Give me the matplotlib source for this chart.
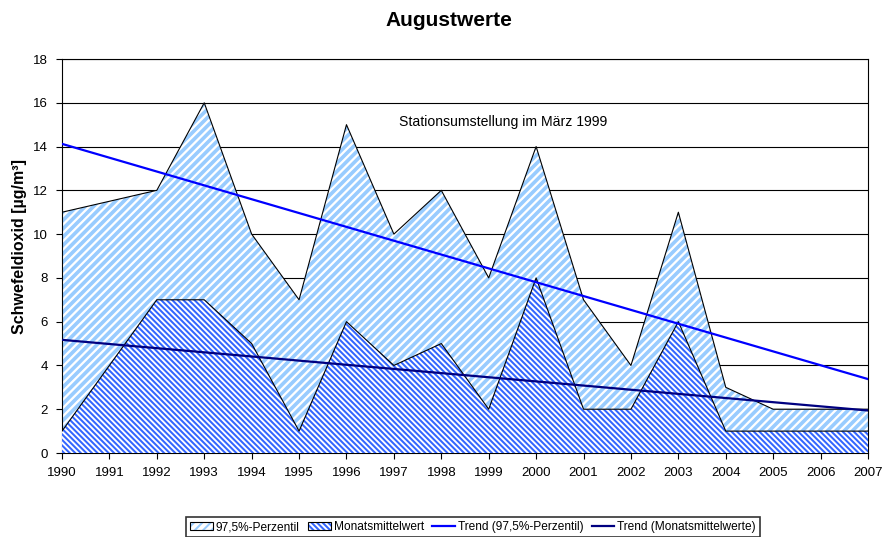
import numpy as np
import matplotlib
matplotlib.use("Agg")
import matplotlib.pyplot as plt
from matplotlib.patches import Patch
from matplotlib.lines import Line2D
from matplotlib.legend_handler import HandlerTuple

years = list(range(1990, 2008))
perzentil = [11, 11.5, 12, 16, 10, 7, 15, 10, 12, 8, 14, 7, 4, 11, 3, 2, 2, 2]
mittel = [1, 4, 7, 7, 5, 1, 6, 4, 5, 2, 8, 2, 2, 6, 1, 1, 1, 1]
yticks = list(range(0, 19, 2))

plt.rcParams['font.family'] = ['Liberation Sans', 'DejaVu Sans']

fig = plt.figure(figsize=(8.86, 5.37), dpi=100)
ax = fig.add_axes([62/886, 1-453/537, (868-62)/886, (453-59)/537])

x = np.array(years, dtype=float)
p = np.array(perzentil, dtype=float)
m = np.array(mittel, dtype=float)

c_light = '#99ccff'
c_mid = '#3366ff'
hatch1 = '////'
hatch2 = '\\' * 6
hw1 = 2.6
hw2 = 1.45


def set_hlw(artist, w):
    try:
        artist.set_hatch_linewidth(w)
    except Exception:
        pass


plt.rcParams['hatch.linewidth'] = hw1
f1 = ax.fill_between(x, 0, p, facecolor='white', edgecolor=c_light, hatch=hatch1, linewidth=0, zorder=2)
set_hlw(f1, hw1)
ax.plot(x, p, color='black', lw=0.8, zorder=3)

plt.rcParams['hatch.linewidth'] = hw2
f2 = ax.fill_between(x, 0, m, facecolor='white', edgecolor=c_mid, hatch=hatch2, linewidth=0, zorder=4)
set_hlw(f2, hw2)
ax.plot(x, m, color='black', lw=0.8, zorder=5)

k1 = np.polyfit(x, p, 1)
k2 = np.polyfit(x, m, 1)
ax.plot(x, np.polyval(k1, x), color='#0000ff', lw=1.6, zorder=6)
ax.plot(x, np.polyval(k2, x), color='#000080', lw=1.6, zorder=6)

ax.set_xlim(1990, 2007)
ax.set_ylim(0, 18)
ax.set_xticks(years)
ax.set_xticklabels([str(y) for y in years], fontsize=9.5)
ax.set_yticks(yticks)
ax.set_yticklabels([str(v) for v in yticks], fontsize=9.5)
ax.tick_params(direction='out', length=4, width=0.8, color='black', pad=6)
for yv in yticks:
    ax.axhline(yv, color='black', lw=0.8, zorder=1)
for s in ax.spines.values():
    s.set_linewidth(0.8)
    s.set_color('black')

ax.set_ylabel('Schwefeldioxid [µg/m³]', fontsize=11.5, fontweight='bold')
ax.yaxis.set_label_coords(-(62-27)/806, (453-247)/394)
fig.text(449/886, 1-20.5/537, 'Augustwerte', ha='center', va='center', fontsize=15, fontweight='bold')
ax.text(1999.3, 15.1, 'Stationsumstellung im März 1999', ha='center', va='center', fontsize=10.1, zorder=7)

plt.rcParams['hatch.linewidth'] = hw1
h1 = Patch(facecolor='white', edgecolor=c_light, hatch=hatch1, linewidth=0)
set_hlw(h1, hw1)
plt.rcParams['hatch.linewidth'] = hw2
h2 = Patch(facecolor='white', edgecolor=c_mid, hatch=hatch2, linewidth=0)
set_hlw(h2, hw2)
b1 = Patch(facecolor='none', edgecolor='black', linewidth=0.8)
b2 = Patch(facecolor='none', edgecolor='black', linewidth=0.8)
handles = [
    (h1, b1),
    (h2, b2),
    Line2D([], [], color='#0000ff', lw=1.6),
    Line2D([], [], color='#000080', lw=1.6),
]
labels = ['97,5%-Perzentil', 'Monatsmittelwert', 'Trend (97,5%-Perzentil)', 'Trend (Monatsmittelwerte)']
leg = fig.legend(handles, labels, loc='upper center', bbox_to_anchor=(473/886, 1-517/537),
                 ncol=4, fontsize=8.6, frameon=True, fancybox=False, shadow=False,
                 handlelength=1.9, handleheight=0.6, handletextpad=0.25, columnspacing=0.7,
                 borderpad=0.35, borderaxespad=0.0, edgecolor='black',
                 handler_map={tuple: HandlerTuple(ndivide=1, pad=0)})
leg.get_frame().set_linewidth(1.2)

fig.savefig('out.png', dpi=100)
